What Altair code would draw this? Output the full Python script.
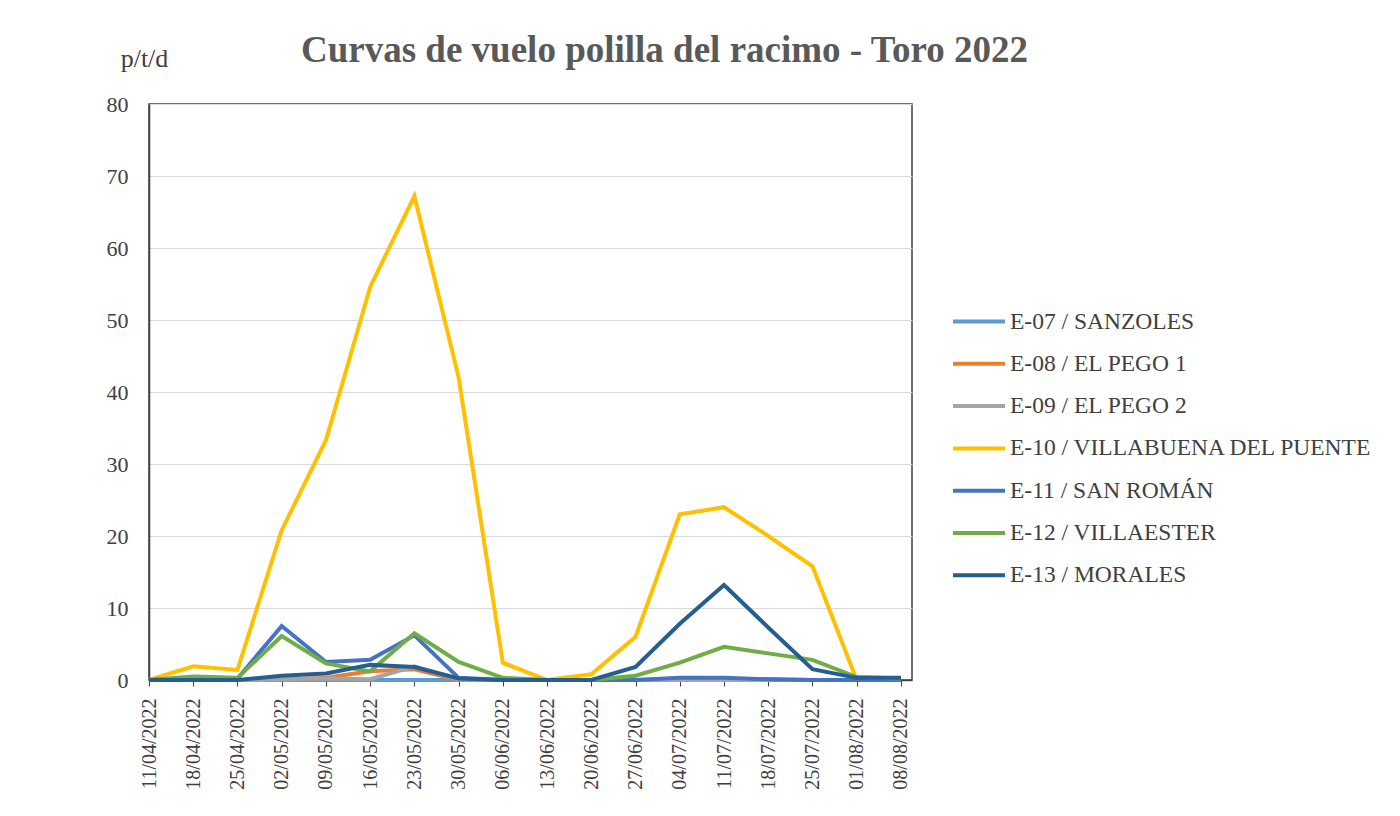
import altair as alt
import pandas as pd

dates = ["11/04/2022", "18/04/2022", "25/04/2022", "02/05/2022", "09/05/2022",
         "16/05/2022", "23/05/2022", "30/05/2022", "06/06/2022", "13/06/2022",
         "20/06/2022", "27/06/2022", "04/07/2022", "11/07/2022", "18/07/2022",
         "25/07/2022", "01/08/2022", "08/08/2022"]

series_names = ["E-07 / SANZOLES", "E-08 / EL PEGO 1", "E-09 / EL PEGO 2",
                "E-10 / VILLABUENA DEL PUENTE", "E-11 / SAN ROMÁN",
                "E-12 / VILLAESTER", "E-13 / MORALES"]

e07 = [0, 0, 0, 0, 0, 0, 0, 0, 0, 0, 0, 0, 0.1, 0.1, 0.1, 0, 0, 0]
e08 = [0, 0, 0, 0, 0.3, 1.2, 1.5, 0, 0, 0, 0, 0, 0, 0, 0, 0, 0, 0]
e09 = [0, 0, 0, 0.1, 0.2, 0.1, 1.9, 0.1, 0, 0, 0, 0, 0, 0, 0, 0, 0, 0]
e10 = [0, 1.9, 1.4, 20.8, 33.3, 54.6, 67.2, 42.0, 2.4, 0, 0.8, 6.0, 23.0, 24.0, 20.0, 15.8, 0, 0]
e11 = [0, 0.3, 0.2, 7.5, 2.5, 2.8, 6.2, 0.3, 0, 0, 0, 0, 0.3, 0.3, 0.1, 0, 0, 0]
e12 = [0, 0.5, 0.3, 6.1, 2.3, 1.2, 6.5, 2.5, 0.3, 0, 0, 0.6, 2.4, 4.6, 3.7, 2.8, 0.4, 0.2]
e13 = [0, 0, 0, 0.6, 0.9, 2.1, 1.8, 0.2, 0, 0, 0, 1.8, 7.8, 13.2, 7.3, 1.5, 0.3, 0.3]

colors = ["#5B9BD5", "#ED7D31", "#A5A5A5", "#FFC000", "#4472C4", "#70AD47", "#255E91"]

all_series = [e07, e08, e09, e10, e11, e12, e13]
rows = []
for si, (name, vals) in enumerate(zip(series_names, all_series)):
    for di, (d, v) in enumerate(zip(dates, vals)):
        rows.append({"idx": di, "fecha": d, "serie": name, "valor": v, "orden": si})
df = pd.DataFrame(rows)

serif = "Liberation Serif"
txt = "#404040"
label_expr = "[" + ",".join("'" + d + "'" for d in dates) + "][datum.value]"

lines = alt.Chart(df).mark_line(strokeWidth=4, strokeJoin="miter").encode(
    x=alt.X("idx:Q",
            scale=alt.Scale(domain=[0, 17.25], nice=False, zero=False),
            axis=alt.Axis(title=None, values=list(range(len(dates))), labelExpr=label_expr,
                          labelAngle=-90, labelFont=serif, labelFontSize=20,
                          labelColor=txt, domainColor="#404040", tickColor="#404040",
                          tickSize=6, labelPadding=12, grid=False, domainWidth=1.5,
                          labelFlush=False, labelOverlap=False)),
    y=alt.Y("valor:Q", scale=alt.Scale(domain=[0, 80], nice=False),
            axis=alt.Axis(values=list(range(0, 81, 10)), title="p/t/d", titleAngle=0,
                          titleX=-5, titleY=-46, titleAlign="center", titleBaseline="middle",
                          titleFont=serif, titleFontSize=26, titleFontWeight="normal",
                          titleColor=txt, labelFont=serif, labelFontSize=22, labelColor=txt,
                          labelPadding=21, ticks=False, domainColor="#404040", domainWidth=1.5,
                          gridColor="#D9D9D9", gridWidth=1)),
    color=alt.Color("serie:N", sort=series_names,
                    scale=alt.Scale(domain=series_names, range=colors),
                    legend=alt.Legend(title=None, orient="none", legendX=802, legendY=208,
                                      symbolType="M-1,0H1", symbolSize=2704,
                                      symbolStrokeWidth=4, labelFont=serif,
                                      labelFontSize=23.5, labelColor=txt, rowPadding=18.3,
                                      clipHeight=19, labelLimit=500,
                                      labelOffset=3)),
    order=alt.Order("orden:Q"),
    detail="serie:N",
)

chart = lines.properties(
    width=763, height=576,
    title=alt.TitleParams("Curvas de vuelo polilla del racimo - Toro 2022",
                          anchor="start", dx=152, dy=60, offset=35, font=serif, fontSize=37,
                          fontWeight="bold", color="#595959", frame="group"),
    autosize=alt.AutoSizeParams(type="none"),
    padding={"left": 141, "top": 96, "right": 480, "bottom": 120},
    background="white",
).configure_view(stroke="#404040", strokeWidth=1.5)

chart.save("out.html", embed_options={"renderer": "svg", "actions": False})
